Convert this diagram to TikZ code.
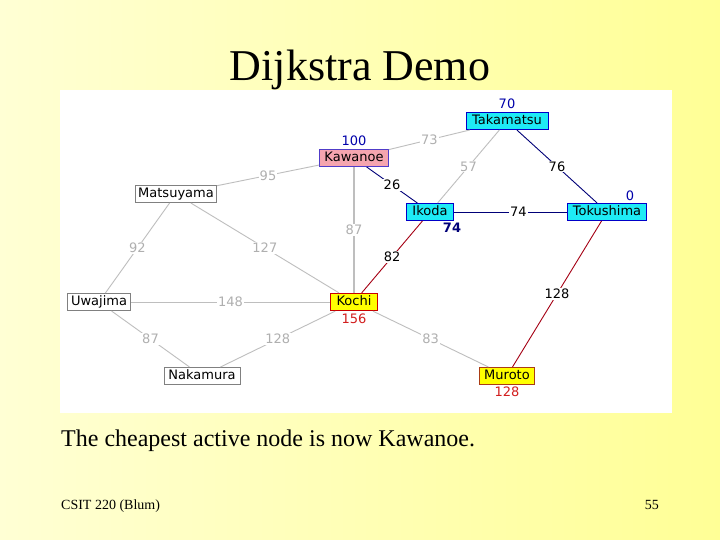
\documentclass[tikz,border=0pt]{standalone}
\usepackage{fontspec}
\setmainfont{Liberation Serif}
\newfontfamily\gfont{DejaVu Sans}
\definecolor{bgl}{RGB}{255,255,212}
\definecolor{bgr}{RGB}{255,255,150}
\definecolor{cyanfill}{RGB}{30,235,245}
\definecolor{nodeblue}{RGB}{0,0,200}
\definecolor{pinkfill}{RGB}{245,165,175}
\definecolor{pinkborder}{RGB}{80,60,200}
\definecolor{yelfill}{RGB}{255,255,0}
\definecolor{redborder}{RGB}{200,0,0}
\definecolor{brownborder}{RGB}{170,60,20}
\definecolor{edgegray}{RGB}{190,190,190}
\definecolor{labgray}{RGB}{175,175,175}
\definecolor{edgenavy}{RGB}{0,0,120}
\definecolor{edgered}{RGB}{165,0,20}
\definecolor{valblue}{RGB}{0,0,170}
\definecolor{valred}{RGB}{210,30,30}
\tikzset{
  gnode/.style={draw, line width=1pt, font=\gfont\fontsize{13}{15}\selectfont, inner sep=0pt,
    minimum height=17pt, text height=9.5pt, text depth=2.5pt},
  plainnode/.style={gnode, draw=gray, fill=white},
  cyannode/.style={gnode, draw=nodeblue, fill=cyanfill},
  pinknode/.style={gnode, draw=pinkborder, fill=pinkfill},
  yelnode/.style={gnode, draw=redborder, fill=yelfill},
  grayedge/.style={draw=edgegray, line width=0.9pt},
  navyedge/.style={draw=edgenavy, line width=0.9pt},
  rededge/.style={draw=edgered, line width=0.9pt},
  elab/.style={fill=white, inner sep=1pt, font=\gfont\fontsize{13}{15}\selectfont},
  glab/.style={elab, text=labgray},
  blab/.style={elab, text=black},
  vlab/.style={inner sep=0pt, font=\gfont\fontsize{13}{15}\selectfont}
}
\begin{document}
\begin{tikzpicture}[x=1pt,y=-1pt]
\useasboundingbox (0,0) rectangle (720,540);
\shade[left color=bgl, right color=bgr] (0,0) rectangle (720,540);
\fill[white] (60,90) rectangle (672,413);

\node[font=\fontsize{44}{50}\selectfont, anchor=base, inner sep=0pt] (title) at (360,81) {Dijkstra Demo};
\node[font=\fontsize{24}{28}\selectfont, anchor=base west, inner sep=0pt] (body) at (61,446) {The cheapest active node is now Kawanoe.};
\node[font=\fontsize{14}{16}\selectfont, anchor=base west, inner sep=0pt] (foot) at (61,509) {CSIT 220 (Blum)};
\node[font=\fontsize{14}{16}\selectfont, anchor=base east, inner sep=0pt] (page) at (659,509) {55};

% nodes
\node[cyannode, minimum width=82pt] (tak) at (507,121) {Takamatsu};
\node[pinknode, minimum width=69pt] (kaw) at (354,158) {Kawanoe};
\node[plainnode, minimum width=81pt] (mat) at (176,194) {Matsuyama};
\node[cyannode, minimum width=47pt] (iko) at (430,212) {Ikoda};
\node[cyannode, minimum width=79pt] (tok) at (607,212) {Tokushima};
\node[plainnode, minimum width=63pt] (uwa) at (99,302) {Uwajima};
\node[yelnode, line width=1.3pt, minimum width=47pt] (koc) at (354,302) {Kochi};
\node[plainnode, minimum width=76pt] (nak) at (202,376) {Nakamura};
\node[yelnode, draw=brownborder, minimum width=55pt] (mur) at (507,376) {Muroto};

% edges
\path[grayedge] (kaw) -- node[glab] (l73) {73} (tak);
\path[grayedge] (kaw) -- node[glab] (l95) {95} (mat);
\path[grayedge, line width=1.8pt] (kaw) -- node[glab] (l87a) {87} (koc);
\path[navyedge] (kaw) -- node[blab] (l26) {26} (iko);
\path[grayedge] (tak) -- node[glab] (l57) {57} (iko);
\path[navyedge] (tak) -- node[blab] (l76) {76} (tok);
\path[navyedge] (iko) -- node[blab, pos=0.57] (l74) {74} (tok);
\path[rededge] (iko) -- node[blab] (l82) {82} (koc);
\path[rededge] (tok) -- node[blab] (l128a) {128} (mur);
\path[grayedge] (mat) -- node[glab] (l92) {92} (uwa);
\path[grayedge] (mat) -- node[glab] (l127) {127} (koc);
\path[grayedge] (uwa) -- node[glab] (l148) {148} (koc);
\path[grayedge] (uwa) -- node[glab] (l87b) {87} (nak);
\path[grayedge] (nak) -- node[glab] (l128b) {128} (koc);
\path[grayedge] (koc) -- node[glab] (l83) {83} (mur);

% value labels
\node[vlab, text=valblue] (v70) at (507,104) {70};
\node[vlab, text=valblue] (v100) at (354,141) {100};
\node[vlab, text=valblue] (v0) at (630,196) {0};
\node[vlab, text=edgenavy, font=\gfont\bfseries\fontsize{13}{15}\selectfont] (v74) at (452,228) {74};
\node[vlab, text=valred] (v156) at (354,319) {156};
\node[vlab, text=valred] (v128) at (507,392) {128};
\end{tikzpicture}
\end{document}
